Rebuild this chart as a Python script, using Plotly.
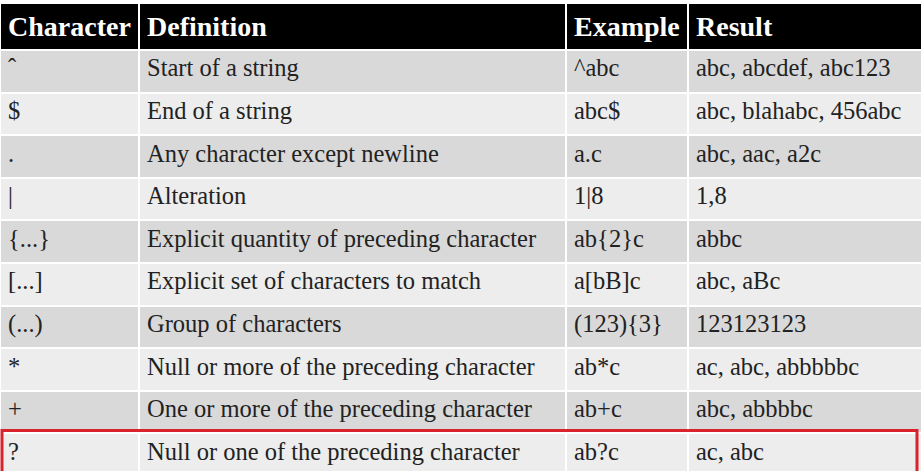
import plotly.graph_objects as go

# Table contents
headers = ["Character", "Definition", "Example", "Result"]
characters = ["ˆ", "$", ".", "|", "{...}", "[...]", "(...)", "*", "+", "?"]
definitions = [
    "Start of a string",
    "End of a string",
    "Any character except newline",
    "Alteration",
    "Explicit quantity of preceding character",
    "Explicit set of characters to match",
    "Group of characters",
    "Null or more of the preceding character",
    "One or more of the preceding character",
    "Null or one of the preceding character",
]
examples = ["^abc", "abc$", "a.c", "1|8", "ab{2}c", "a[bB]c", "(123){3}", "ab*c", "ab+c", "ab?c"]
results = [
    "abc, abcdef, abc123",
    "abc, blahabc, 456abc",
    "abc, aac, a2c",
    "1,8",
    "abbc",
    "abc, aBc",
    "123123123",
    "ac, abc, abbbbbc",
    "abc, abbbbc",
    "ac, abc",
]
highlight_row = 9  # the "?" row gets the red box

W, H = 922, 471
top = 3
header_h = 42
cell_h = 42.6

row_colors = ["#d9d9d9" if i % 2 == 0 else "#ededed" for i in range(len(characters))]

fig = go.Figure(go.Table(
    columnwidth=[139, 427, 122, 234],
    header=dict(
        values=[f"<b>{h}</b>" for h in headers],
        fill_color="black",
        font=dict(family="Liberation Serif", size=28, color="white"),
        align="left",
        height=header_h,
        line=dict(color="white", width=2),
    ),
    cells=dict(
        values=[characters, definitions, examples, results],
        fill_color=[row_colors] * 4,
        font=dict(family="Liberation Serif", size=24.5, color="#222222"),
        align="left",
        height=cell_h,
        line=dict(color="white", width=2),
    ),
))

plot_h = H - top
y_top = 1 - (header_h + highlight_row * cell_h + 2) / plot_h
fig.add_shape(
    type="rect", xref="paper", yref="paper",
    x0=2 / W, x1=1 - 5 / W, y0=-0.05, y1=y_top,
    line=dict(color="#d8222c", width=3),
)

fig.update_layout(
    width=W, height=H,
    margin=dict(t=top, l=0, r=0, b=0),
    paper_bgcolor="white",
)

fig.write_html(
    "out.html",
    config={"displayModeBar": False},
    post_script="document.body.style.margin='0';",
)
